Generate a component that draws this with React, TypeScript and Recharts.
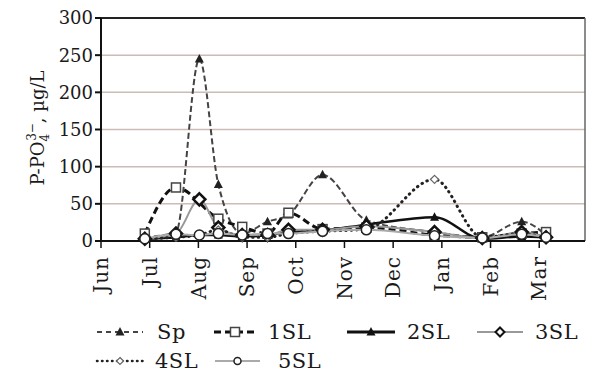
import { LineChart, Line, XAxis, YAxis, CartesianGrid, ReferenceLine } from 'recharts';

const months = ['Jun', 'Jul', 'Aug', 'Sep', 'Oct', 'Nov', 'Dec', 'Jan', 'Feb', 'Mar'];
const monthTicks = [0, 1, 2, 3, 4, 5, 6, 7, 8, 9];
const yTicks = [0, 50, 100, 150, 200, 250, 300];

// sampling dates, as month offsets from 1 June
const sampleTimes = [0.9, 1.54, 2.02, 2.41, 2.9, 3.42, 3.85, 4.55, 5.45, 6.85, 7.83, 8.64, 9.14];

const sp = [5, 12, 245, 76, 10, 26, 35, 89, 28, 12, 5, 26, 8];
const sl1 = [10, 72, null, 30, 19, 10, 38, 16, 18, 8, 5, 10, 12];
const sl2 = [3, 5, 8, 8, 6, 8, 12, 14, 22, 32, 3, 6, 5];
const sl3 = [3, 10, 56, 18, 8, 8, 15, 15, 20, 12, 4, 12, 5];
const sl4 = [3, 5, 8, 15, 5, 5, 10, 13, 16, 83, 5, 10, 4];
const sl5 = [3, 9, 8, 10, 8, 10, 10, 13, 15, 7, 4, 9, 5];

const data = sampleTimes.map((t, i) => ({
  t,
  sp: sp[i],
  sl1: sl1[i],
  sl2: sl2[i],
  sl3: sl3[i],
  sl4: sl4[i],
  sl5: sl5[i],
}));

const FONT = '"DejaVu Serif", serif';
const X_MAX = 9.94;

// markers take their size/colour from explicit props so recharts' dot defaults don't win
const Triangle = ({ cx, cy, fill }: any) => {
  if (cx == null || cy == null) return null;
  return <path d={`M${cx},${cy - 5} L${cx + 4.5},${cy + 3.5} L${cx - 4.5},${cy + 3.5} Z`} fill={fill} />;
};
const Square = ({ cx, cy }: any) => {
  if (cx == null || cy == null) return null;
  return <rect x={cx - 4.5} y={cy - 4.5} width={9} height={9} fill="#fff" stroke="#444" strokeWidth={1.5} />;
};
const Diamond = ({ cx, cy, r, sw, stroke }: any) => {
  if (cx == null || cy == null) return null;
  return <path d={`M${cx},${cy - r} L${cx + r},${cy} L${cx},${cy + r} L${cx - r},${cy} Z`} fill="#fff" stroke={stroke} strokeWidth={sw} />;
};
const Circle = ({ cx, cy, r }: any) => {
  if (cx == null || cy == null) return null;
  return <circle cx={cx} cy={cy} r={r} fill="#fff" stroke="#222" strokeWidth={1.5} />;
};

const MonthTick = ({ x, y, payload }: any) => (
  <text
    transform={`rotate(-90, ${x}, ${y + 6})`}
    x={x}
    y={y + 6}
    dy="0.36em"
    textAnchor="end"
    fontFamily={FONT}
    fontSize={20}
    letterSpacing={1}
    fill="#1a1a1a"
  >
    {months[payload.value]}
  </text>
);

const YLabel = () => (
  <text transform="rotate(-90, 44, 128)" x={44} y={128} textAnchor="middle" fontFamily={FONT} fontSize={18} fill="#1a1a1a">
    P-PO
    <tspan fontSize={12} dy={5}>4</tspan>
    <tspan fontSize={12} dx={-7} dy={-13}>3−</tspan>
    <tspan fontSize={18} dy={8}>, µg/L</tspan>
  </text>
);

const legendItems = [
  { name: 'Sp', row: 0, x: 97, w: 46, text: 157, stroke: '#444', width: 2, dash: '5 4', marker: 'tri', mfill: '#222' },
  { name: '1SL', row: 0, x: 214, w: 42, text: 268, stroke: '#111', width: 3, dash: '7 4', marker: 'sq' },
  { name: '2SL', row: 0, x: 347, w: 48, text: 407, stroke: '#111', width: 3, dash: undefined, marker: 'tri', mfill: '#111' },
  { name: '3SL', row: 0, x: 477, w: 46, text: 535, stroke: '#999', width: 2, dash: undefined, marker: 'dia' },
  { name: '4SL', row: 1, x: 97, w: 46, text: 155, stroke: '#222', width: 2.5, dash: '0.5 4.5', marker: 'sdia' },
  { name: '5SL', row: 1, x: 215, w: 45, text: 278, stroke: '#aaa', width: 2, dash: undefined, marker: 'circ' },
];

const ChartLegend = () => (
  <svg width={592} height={60} style={{ position: 'absolute', left: 0, top: 314 }}>
    {legendItems.map((it) => {
      const cy = it.row === 0 ? 18 : 47;
      const cx = it.x + it.w / 2;
      return (
        <g key={it.name}>
          <line
            x1={it.x}
            x2={it.x + it.w}
            y1={cy}
            y2={cy}
            stroke={it.stroke}
            strokeWidth={it.width}
            strokeDasharray={it.dash}
            strokeLinecap={it.marker === 'sdia' ? 'round' : 'butt'}
          />
          {it.marker === 'tri' && <Triangle cx={cx} cy={cy} fill={it.mfill} />}
          {it.marker === 'sq' && <Square cx={cx} cy={cy} />}
          {it.marker === 'dia' && <Diamond cx={cx} cy={cy} r={4.5} sw={2} stroke="#111" />}
          {it.marker === 'sdia' && <Diamond cx={cx} cy={cy} r={3.5} sw={1.2} stroke="#666" />}
          {it.marker === 'circ' && <Circle cx={cx} cy={cy} r={3.5} />}
          <text x={it.text} y={cy} dy="0.35em" fontFamily={FONT} fontSize={21} letterSpacing={0.5} fill="#1a1a1a">
            {it.name}
          </text>
        </g>
      );
    })}
  </svg>
);

export default function App() {
  return (
    <div style={{ position: 'relative', width: 592, height: 374, background: '#fff' }}>
      <style>{'body{margin:0}'}</style>
      <LineChart width={592} height={374} data={data} margin={{ top: 18, right: 7, left: 0, bottom: 60 }}>
        <CartesianGrid horizontal vertical={false} stroke="#cbbcb6" strokeWidth={1.5} />
        <XAxis
          dataKey="t"
          type="number"
          domain={[0, X_MAX]}
          ticks={monthTicks}
          interval={0}
          height={73}
          tick={<MonthTick />}
          tickSize={7}
          stroke="#111"
          strokeWidth={2}
          tickLine={{ stroke: '#111', strokeWidth: 1.5 }}
        />
        <YAxis
          domain={[0, 300]}
          ticks={yTicks}
          width={101}
          tickSize={6}
          stroke="#111"
          strokeWidth={2}
          tick={{ fontFamily: FONT, fontSize: 18, fill: '#1a1a1a' }}
          label={{ content: () => <YLabel /> }}
        />
        <ReferenceLine y={300} stroke="#222" strokeWidth={2} />
        <ReferenceLine x={X_MAX} stroke="#666" strokeWidth={1.5} />
        <Line dataKey="sp" type="monotone" stroke="#444" strokeWidth={2} strokeDasharray="6 3" dot={<Triangle fill="#222" />} isAnimationActive={false} />
        <Line dataKey="sl1" type="monotone" stroke="#111" strokeWidth={3} strokeDasharray="7 4" connectNulls dot={<Square />} isAnimationActive={false} />
        <Line dataKey="sl2" type="monotone" stroke="#111" strokeWidth={2.5} dot={<Triangle fill="#111" />} isAnimationActive={false} />
        <Line dataKey="sl3" type="monotone" stroke="#999" strokeWidth={2} dot={<Diamond r={6} sw={2.5} stroke="#111" />} isAnimationActive={false} />
        <Line
          dataKey="sl4"
          type="monotone"
          stroke="#222"
          strokeWidth={3}
          strokeDasharray="0.5 5"
          strokeLinecap="round"
          dot={<Diamond r={4} sw={1.2} stroke="#666" />}
          isAnimationActive={false}
        />
        <Line dataKey="sl5" type="monotone" stroke="#aaa" strokeWidth={2} dot={<Circle r={5} />} isAnimationActive={false} />
      </LineChart>
      <ChartLegend />
    </div>
  );
}
